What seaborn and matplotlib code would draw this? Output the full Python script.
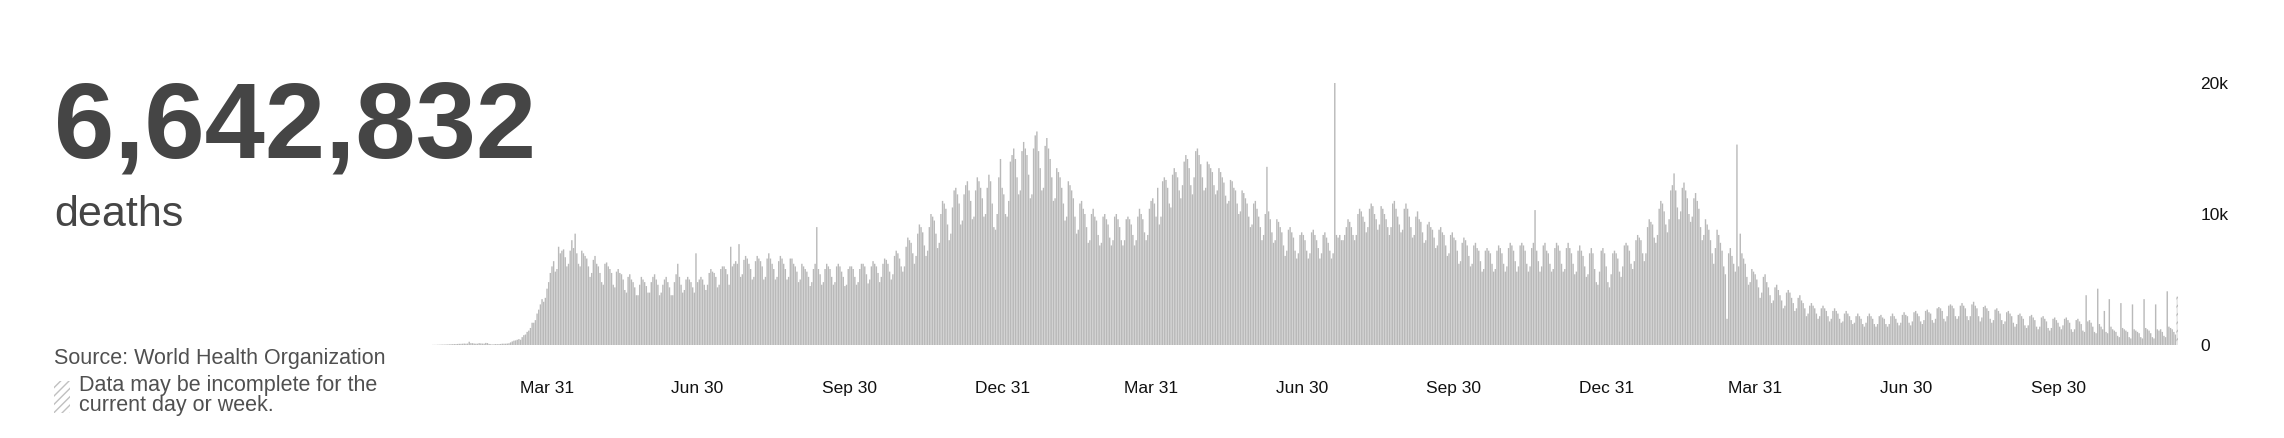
import numpy as np
import pandas as pd
import matplotlib
matplotlib.use("Agg")
import matplotlib.pyplot as plt
from matplotlib.patches import Rectangle
import seaborn as sns

# daily reported deaths, in hundreds, starting 2020-01-22 (one row per month)
start_date = "2020-01-22"
deaths_2020 = [
    0.1, 0.1, 0.1, 0.2, 0.2, 0.3, 0.3, 0.3, 0.4, 0.4,
    0.5, 0.6, 0.6, 0.7, 0.7, 0.8, 0.9, 0.9, 1.0, 1.1, 1.0, 1.1, 2.5, 1.4, 1.4, 1.1, 1.0, 1.0, 1.4, 1.2, 1.1, 1.0, 1.6, 1.5, 0.8, 0.6, 0.4, 0.6, 0.7,
    0.6, 0.7, 0.8, 1.0, 1.0, 1.0, 1.1, 1.3, 2.0, 2.7, 3.3, 3.5, 4.0, 4.5, 4.0, 6.0, 7.5, 8.0, 10, 11, 13, 17, 17, 19, 24, 27, 31, 35, 33, 36, 43,
    48, 55, 60, 64, 56, 58, 75, 70, 72, 73, 67, 60, 62, 72, 80, 74, 85, 70, 62, 60, 72, 70, 68, 66, 60, 52, 55, 65, 68, 62,
    60, 55, 48, 46, 62, 63, 60, 58, 55, 46, 44, 56, 58, 55, 54, 50, 42, 40, 52, 54, 50, 48, 44, 38, 38, 46, 52, 50, 48, 45, 40,
    40, 48, 52, 54, 50, 46, 38, 40, 46, 50, 52, 48, 44, 38, 38, 48, 54, 62, 52, 46, 40, 42, 50, 52, 50, 48, 44, 40, 70, 48,
    50, 52, 50, 46, 42, 46, 55, 58, 56, 55, 52, 44, 46, 58, 60, 60, 58, 54, 46, 75, 60, 62, 64, 62, 77, 52, 54, 65, 68, 66, 62,
    58, 50, 52, 64, 68, 66, 64, 60, 50, 52, 66, 70, 66, 62, 58, 50, 52, 64, 68, 66, 62, 58, 50, 52, 66, 66, 62, 60, 56, 48, 50,
    62, 60, 58, 56, 52, 45, 48, 58, 62, 90, 58, 54, 46, 48, 58, 62, 60, 58, 52, 46, 48, 60, 62, 60, 56, 52, 45, 46, 58, 60,
    60, 58, 52, 46, 48, 58, 62, 62, 60, 54, 47, 50, 60, 64, 62, 60, 55, 48, 52, 62, 66, 65, 62, 56, 50, 54, 68, 72, 70, 66, 60,
    56, 60, 75, 82, 80, 78, 70, 62, 68, 85, 92, 90, 86, 76, 68, 72, 90, 100, 98, 95, 85, 74, 78, 100, 110, 108, 104, 92, 80, 85,
    105, 118, 120, 115, 108, 92, 95, 115, 122, 125, 118, 110, 96, 98, 118, 128, 125, 120, 112, 98, 100, 120, 130, 125, 108, 90, 88, 100, 128, 142, 120,
]
deaths_2021 = [
    115, 100, 98, 110, 140, 145, 150, 142, 128, 115, 118, 148, 155, 150, 145, 130, 112, 115, 150, 160, 163, 148, 135, 118, 120, 152, 158, 150, 142, 128, 110,
    112, 135, 132, 128, 120, 108, 95, 98, 125, 122, 118, 112, 98, 85, 88, 108, 110, 104, 100, 90, 78, 80, 100, 104, 98, 95, 84, 76,
    78, 98, 100, 96, 92, 82, 76, 80, 98, 100, 96, 90, 80, 76, 80, 96, 98, 96, 92, 84, 76, 80, 98, 104, 100, 96, 86, 80, 84, 104, 110,
    112, 108, 98, 120, 92, 98, 125, 128, 126, 120, 108, 105, 130, 135, 132, 128, 118, 112, 122, 140, 145, 142, 135, 122, 115, 128, 148, 150, 145, 138,
    128, 118, 120, 140, 138, 135, 132, 122, 115, 118, 135, 132, 128, 124, 114, 108, 110, 126, 125, 120, 118, 108, 100, 102, 118, 116, 112, 108, 98, 90, 92,
    108, 110, 104, 98, 90, 80, 84, 100, 136, 102, 96, 86, 78, 80, 96, 94, 90, 86, 76, 68, 72, 88, 90, 86, 82, 72, 66, 70, 84, 86,
    84, 80, 72, 66, 70, 86, 88, 84, 80, 74, 66, 70, 84, 86, 82, 78, 72, 66, 70, 200, 84, 82, 84, 80, 80, 84, 90, 96, 94, 90, 84,
    80, 84, 100, 104, 102, 98, 94, 86, 90, 104, 108, 106, 100, 96, 88, 92, 106, 104, 100, 96, 90, 84, 90, 108, 110, 104, 98, 92, 86, 88, 104,
    108, 104, 98, 90, 82, 84, 98, 102, 96, 94, 86, 78, 80, 92, 94, 90, 88, 82, 74, 76, 88, 90, 86, 84, 76, 68, 70, 84, 86, 82,
    80, 72, 62, 64, 78, 82, 80, 76, 68, 60, 62, 76, 78, 74, 72, 64, 56, 58, 72, 74, 72, 70, 62, 56, 58, 72, 76, 74, 70, 62, 56,
    60, 74, 78, 76, 72, 64, 56, 60, 76, 78, 76, 72, 62, 56, 60, 74, 78, 103, 72, 64, 56, 60, 76, 78, 72, 70, 62, 56, 58, 74,
    78, 76, 72, 62, 56, 58, 74, 78, 74, 70, 62, 54, 56, 72, 76, 72, 68, 60, 52, 54, 70, 74, 70, 58, 48, 46, 56, 72, 74, 70, 60,
]
deaths_2022 = [
    48, 44, 54, 70, 72, 70, 66, 56, 52, 60, 76, 78, 76, 72, 62, 58, 64, 80, 84, 82, 80, 70, 64, 70, 90, 96, 94, 92, 82, 78, 84,
    104, 110, 108, 102, 92, 86, 96, 118, 122, 131, 118, 105, 96, 102, 120, 124, 118, 112, 100, 94, 98, 112, 116, 110, 104, 90, 80, 84,
    96, 92, 88, 80, 70, 62, 74, 88, 84, 78, 72, 60, 54, 20, 70, 74, 68, 62, 56, 153, 60, 85, 70, 66, 62, 52, 46, 48, 58, 56, 54,
    50, 44, 36, 40, 52, 54, 48, 44, 38, 32, 34, 44, 46, 42, 38, 34, 28, 30, 40, 42, 40, 36, 32, 26, 28, 36, 38, 34, 32, 28,
    22, 24, 30, 32, 30, 28, 24, 20, 22, 28, 30, 28, 26, 22, 18, 20, 26, 28, 26, 24, 20, 17, 18, 24, 26, 24, 22, 19, 16, 17, 22,
    24, 22, 20, 16, 14, 17, 22, 24, 22, 20, 16, 14, 16, 22, 23, 21, 20, 16, 14, 16, 22, 24, 22, 20, 17, 15, 17, 23, 25, 23,
    22, 17, 15, 18, 25, 26, 24, 22, 18, 16, 19, 26, 27, 25, 24, 19, 17, 20, 28, 29, 28, 26, 20, 18, 22, 30, 31, 30, 28, 22, 20,
    22, 30, 32, 30, 28, 22, 19, 22, 31, 33, 30, 28, 22, 18, 21, 29, 30, 28, 26, 20, 17, 19, 27, 28, 26, 24, 19, 16, 18, 25, 26,
    24, 22, 17, 14, 16, 23, 24, 22, 20, 15, 13, 15, 22, 23, 21, 19, 14, 12, 14, 21, 22, 20, 18, 13, 11, 13, 20, 21, 19, 17,
    14, 12, 15, 20, 21, 19, 17, 12, 10, 12, 19, 20, 18, 16, 11, 10, 38, 18, 19, 17, 14, 10, 9, 43, 16, 14, 12, 26, 10, 9, 35,
    14, 12, 11, 10, 7, 6, 32, 13, 12, 11, 10, 6, 5, 31, 12, 11, 10, 9, 6, 5, 35, 13, 12, 11, 9, 6, 5, 31, 12, 11,
    12, 10, 7, 6, 41, 14, 13, 12, 10, 8, 37,
]

tick_dates = ["2020-03-31", "2020-06-30", "2020-09-30", "2020-12-31",
              "2021-03-31", "2021-06-30", "2021-09-30", "2021-12-31",
              "2022-03-31", "2022-06-30", "2022-09-30"]
y_ticks = [0, 10000, 20000]
y_tick_labels = ["0", "10k", "20k"]
total_text = "6,642,832"

sns.set_theme(style="white")
plt.rcParams['font.family'] = ['Liberation Sans', 'DejaVu Sans']

values = np.array(deaths_2020 + deaths_2021 + deaths_2022, dtype=float) * 100
dates = pd.date_range(start_date, periods=len(values), freq="D")
df = pd.DataFrame({"day": np.arange(len(values)), "deaths": values})

W, H = 2284, 438
fig = plt.figure(figsize=(W / 100, H / 100), dpi=100)
ax = fig.add_axes([432 / W, 93 / H, 1746 / W, 262 / H])

sns.barplot(data=df, x="day", y="deaths", native_scale=True, color="#b9b9b9",
            saturation=1, width=0.85, errorbar=None, ax=ax, linewidth=0)

# thin daily bars: turn off pixel snapping so none of them vanish
for p in ax.patches:
    p.set_snap(False)

# last (incomplete) day is hatched
last = ax.patches[-1]
last.set_facecolor("#e4e4e4")
last.set_hatch("////")
last.set_edgecolor("#b5b5b5")

ax.set_xlim(-0.5, len(values) - 0.5)
ax.set_ylim(0, 20000)
tick_pos = [dates.get_loc(pd.Timestamp(d)) for d in tick_dates]
ax.set_xticks(tick_pos, [pd.Timestamp(d).strftime("%b %d") for d in tick_dates])
ax.yaxis.tick_right()
ax.set_yticks(y_ticks, y_tick_labels)
ax.tick_params(axis="x", length=0, pad=26, labelsize=12.5, labelcolor="#111111")
ax.tick_params(axis="y", length=0, pad=16, labelsize=12.5, labelcolor="#111111")
ax.set_xlabel("")
ax.set_ylabel("")
ax.grid(False)
sns.despine(ax=ax, left=True, bottom=True, right=True, top=True)

fig.text(54 / W, 1 - 158 / H, total_text, fontsize=78, fontweight="bold",
         color="#454545", va="baseline", ha="left")
fig.text(54 / W, 1 - 226 / H, "deaths", fontsize=31, color="#454545",
         va="baseline", ha="left")
fig.text(54 / W, 1 - 364 / H, "Source: World Health Organization", fontsize=15.5,
         color="#505050", va="baseline", ha="left")
fig.text(79 / W, 1 - 391 / H, "Data may be incomplete for the", fontsize=15.5,
         color="#505050", va="baseline", ha="left")
fig.text(79 / W, 1 - 411 / H, "current day or week.", fontsize=15.5,
         color="#505050", va="baseline", ha="left")
fig.patches.append(Rectangle((54 / W, 1 - 413 / H), 16 / W, 32 / H,
                             transform=fig.transFigure, facecolor="white",
                             edgecolor="#c0c0c0", hatch="////", linewidth=0))

fig.savefig("out.png", dpi=100, facecolor="white")
